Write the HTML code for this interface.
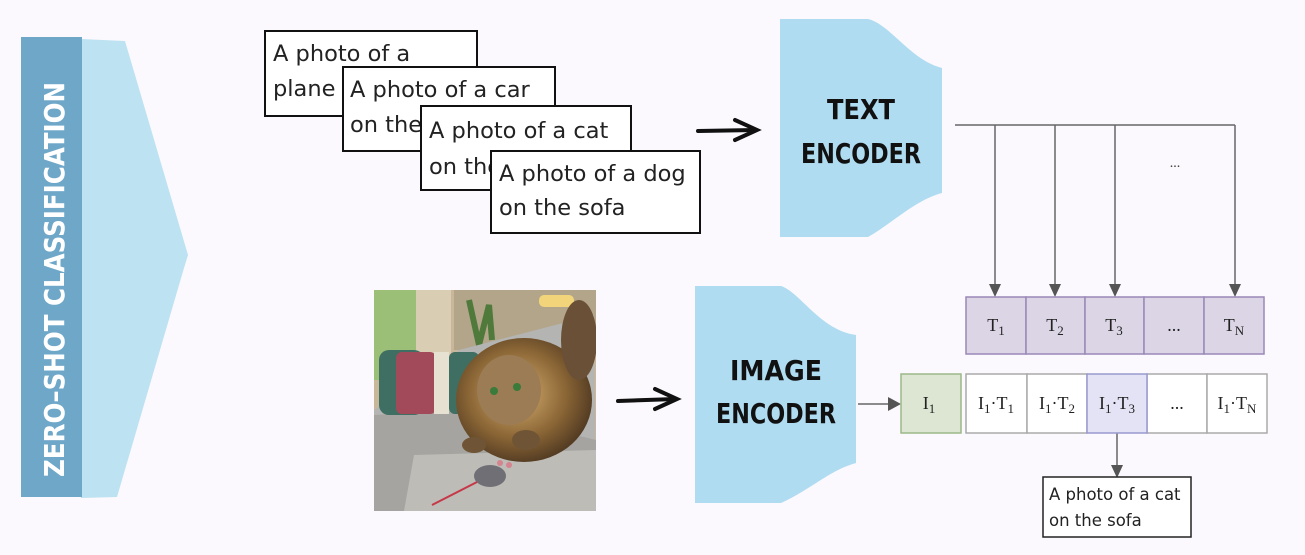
<!DOCTYPE html>
<html><head><meta charset="utf-8"><style>
html,body{margin:0;padding:0;background:#fbf9fd;}
svg{display:block}
.card{font-family:"DejaVu Sans","Liberation Sans",sans-serif;font-size:22.5px;fill:#222}
.enc{font-family:"DejaVu Sans Condensed","Liberation Sans Narrow","Liberation Sans",sans-serif;font-weight:bold;font-size:28px;fill:#111}
.ser{font-family:"Liberation Serif",serif;font-size:18px;fill:#222}
</style></head><body>
<svg width="1305" height="555" viewBox="0 0 1305 555">
<rect width="1305" height="555" fill="#fbf9fd"/>
<polygon points="81,39 125,41 188,255 184,268 117,497 81,498" fill="#bde2f2"/>
<rect x="21" y="37" width="61" height="460" fill="#6fa7c9"/>
<text transform="translate(64,477) rotate(-90)" font-family="DejaVu Sans Condensed,Liberation Sans Narrow,sans-serif" font-weight="bold" font-size="28" fill="#fff" textLength="395" lengthAdjust="spacingAndGlyphs">ZERO–SHOT CLASSIFICATION</text>

<rect x="265" y="31" width="212" height="85" fill="#fff" stroke="#111" stroke-width="2"/>
<text class="card" x="273" y="61">A photo of a</text>
<text class="card" x="273" y="96">plane</text>
<rect x="343" y="67" width="212" height="84" fill="#fff" stroke="#111" stroke-width="2"/>
<text class="card" x="350" y="97">A photo of a car</text>
<text class="card" x="350" y="132">on the</text>
<rect x="421" y="106" width="210" height="84" fill="#fff" stroke="#111" stroke-width="2"/>
<text class="card" x="429" y="138">A photo of a cat</text>
<text class="card" x="429" y="174">on the</text>
<rect x="491" y="151" width="209" height="82" fill="#fff" stroke="#111" stroke-width="2"/>
<text class="card" x="499" y="181" fill="#444">A photo of a dog</text>
<text class="card" x="499" y="215" fill="#444">on the sofa</text>

<g stroke="#111" stroke-width="4" fill="none" stroke-linecap="round">
<path d="M698,131 L756,130"/><path d="M735,120 L757,130 L735,140"/>
<path d="M618,401 L676,399"/><path d="M655,389 L677,399 L655,409"/>
</g>

<path d="M780,19 L868,19 C890,24 910,60 942,68 L942,193 C915,200 890,225 868,237 L780,237 Z" fill="#b0dcf2"/>
<text class="enc" x="861" y="119" text-anchor="middle" textLength="68" lengthAdjust="spacingAndGlyphs">TEXT</text>
<text class="enc" x="861" y="163" text-anchor="middle" textLength="120" lengthAdjust="spacingAndGlyphs">ENCODER</text>

<path d="M695,286 L781,286 C800,292 820,330 856,335 L856,463 C830,470 810,490 781,503 L695,503 Z" fill="#b0dcf2"/>
<text class="enc" x="776" y="380" text-anchor="middle" textLength="92" lengthAdjust="spacingAndGlyphs">IMAGE</text>
<text class="enc" x="776" y="423" text-anchor="middle" textLength="120" lengthAdjust="spacingAndGlyphs">ENCODER</text>

<g stroke="#666" stroke-width="1.5" fill="none">
<path d="M955,125 L1235,125"/>
<path d="M995,125 V290"/><path d="M1055,125 V290"/><path d="M1115,125 V290"/><path d="M1235,125 V290"/>
<path d="M858,404 H893"/>
<path d="M1117,433 V470"/>
</g>
<g fill="#555">
<polygon points="989,284 1001,284 995,297"/>
<polygon points="1049,284 1061,284 1055,297"/>
<polygon points="1109,284 1121,284 1115,297"/>
<polygon points="1229,284 1241,284 1235,297"/>
<polygon points="888,397 888,411 901,404"/>
<polygon points="1111,465 1123,465 1117,478"/>
</g>
<text x="1175" y="167" font-family="Liberation Serif,serif" font-size="14" fill="#333" text-anchor="middle">...</text>

<g fill="#dbd5e5" stroke="#9a88b8" stroke-width="1.5">
<rect x="966" y="297" width="60" height="57"/><rect x="1026" y="297" width="59" height="57"/>
<rect x="1085" y="297" width="59" height="57"/><rect x="1144" y="297" width="60" height="57"/>
<rect x="1204" y="297" width="60" height="57"/>
</g>
<g text-anchor="middle">
<text x="996" y="331" class="ser">T<tspan font-size="13" dy="4">1</tspan></text>
<text x="1055" y="331" class="ser">T<tspan font-size="13" dy="4">2</tspan></text>
<text x="1114" y="331" class="ser">T<tspan font-size="13" dy="4">3</tspan></text>
<text x="1174" y="331" class="ser" font-size="14">...</text>
<text x="1234" y="331" class="ser">T<tspan font-size="13" dy="4">N</tspan></text>
</g>

<rect x="901" y="374" width="60" height="59" fill="#dce6d3" stroke="#9cb88a" stroke-width="1.5"/>
<text x="929" y="409" class="ser" text-anchor="middle">I<tspan font-size="13" dy="4">1</tspan></text>
<g stroke="#aaa" stroke-width="1.5" fill="#fff">
<rect x="966" y="374" width="61" height="59"/><rect x="1027" y="374" width="60" height="59"/>
<rect x="1147" y="374" width="60" height="59"/><rect x="1207" y="374" width="60" height="59"/>
</g>
<rect x="1087" y="374" width="60" height="59" fill="#e3e3f5" stroke="#9a9ad0" stroke-width="1.5"/>
<g text-anchor="middle">
<text x="996" y="409" class="ser">I<tspan font-size="13" dy="4">1</tspan><tspan dy="-4">·T</tspan><tspan font-size="13" dy="4">1</tspan></text>
<text x="1057" y="409" class="ser">I<tspan font-size="13" dy="4">1</tspan><tspan dy="-4">·T</tspan><tspan font-size="13" dy="4">2</tspan></text>
<text x="1117" y="409" class="ser">I<tspan font-size="13" dy="4">1</tspan><tspan dy="-4">·T</tspan><tspan font-size="13" dy="4">3</tspan></text>
<text x="1177" y="409" class="ser" font-size="14">...</text>
<text x="1237" y="409" class="ser">I<tspan font-size="13" dy="4">1</tspan><tspan dy="-4">·T</tspan><tspan font-size="13" dy="4">N</tspan></text>
</g>

<rect x="1043" y="477" width="148" height="60" fill="#fff" stroke="#222" stroke-width="1.5"/>
<text x="1049" y="500" font-family="DejaVu Sans,Liberation Sans,sans-serif" font-size="16.5" fill="#222">A photo of a cat</text>
<text x="1049" y="526" font-family="DejaVu Sans,Liberation Sans,sans-serif" font-size="16.5" fill="#222">on the sofa</text>

<svg x="374" y="290" width="222" height="221" viewBox="0 0 222 221">
<defs><clipPath id="c"><rect width="222" height="221"/></clipPath>
<radialGradient id="cat" cx="0.45" cy="0.45" r="0.6"><stop offset="0" stop-color="#d8b070"/><stop offset="0.6" stop-color="#8a6535"/><stop offset="1" stop-color="#4a3520"/></radialGradient></defs>
<g clip-path="url(#c)">
<rect width="222" height="221" fill="#c9b79a"/>
<rect x="0" y="0" width="42" height="90" fill="#9cbf78"/>
<rect x="42" y="0" width="35" height="100" fill="#d9cdb4"/>
<rect x="80" y="0" width="142" height="60" fill="#b3a58a"/>
<path d="M95,10 L105,55 L115,15 L118,50" stroke="#4f7a3c" stroke-width="6" fill="none"/>
<rect x="165" y="5" width="35" height="12" rx="5" fill="#f2d47a"/>
<path d="M85,60 L220,25 L222,221 L0,221 L0,120 Z" fill="#b4b4b2"/>
<path d="M0,125 L100,120 L222,150 L222,221 L0,221 Z" fill="#a5a4a0"/>
<path d="M40,165 L222,160 L222,221 L30,221 Z" fill="#bdbcb7"/>
<rect x="5" y="60" width="45" height="65" rx="10" fill="#3f6e62"/>
<rect x="22" y="62" width="40" height="62" rx="6" fill="#a34a5a"/>
<rect x="60" y="62" width="15" height="62" fill="#e6e1d0"/>
<rect x="75" y="62" width="30" height="62" rx="6" fill="#3f6e62"/>
<ellipse cx="150" cy="110" rx="68" ry="62" fill="url(#cat)"/>
<ellipse cx="135" cy="100" rx="32" ry="35" fill="#9c7c55"/>
<ellipse cx="205" cy="50" rx="18" ry="40" fill="#6a5036"/>
<circle cx="120" cy="101" r="4" fill="#3a7a3a"/><circle cx="143" cy="97" r="4" fill="#3a7a3a"/>
<ellipse cx="100" cy="155" rx="12" ry="8" fill="#6f5535"/><ellipse cx="152" cy="150" rx="14" ry="10" fill="#6f5535"/>
<ellipse cx="116" cy="186" rx="16" ry="11" fill="#6f6f75"/>
<circle cx="126" cy="173" r="3" fill="#d5838e"/><circle cx="135" cy="175" r="3" fill="#d5838e"/>
<path d="M103,192 L58,215" stroke="#c63848" stroke-width="2"/>
</g></svg>
</svg>
</body></html>
